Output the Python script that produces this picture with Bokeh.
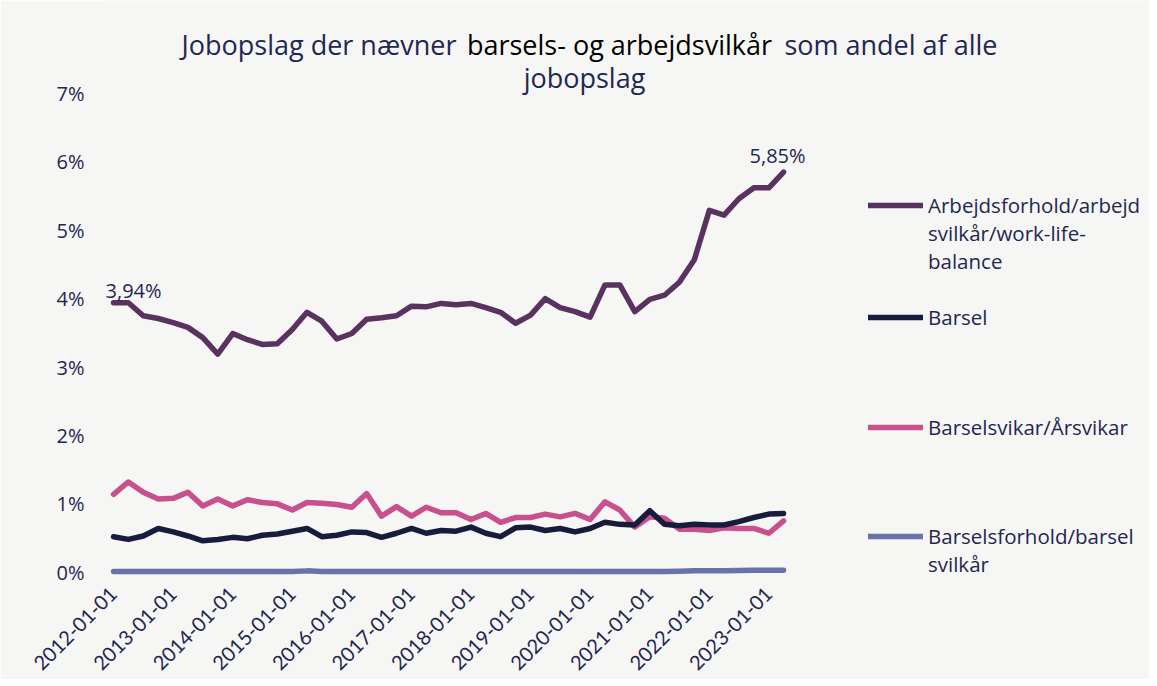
import numpy as np
import pandas as pd
from bokeh.plotting import figure
from bokeh.models import (Range1d, FixedTicker, PrintfTickFormatter, DatetimeTickFormatter,
                          Legend, LegendItem, Label, ColumnDataSource)
from bokeh.embed import file_html
from bokeh.resources import INLINE
from bokeh.core.properties import value

# ---- data (quarterly, share of all job postings in %) ----
dates = pd.date_range("2012-01-01", periods=46, freq="QS")

arbejdsforhold = [3.94, 3.94, 3.75, 3.71, 3.65, 3.58, 3.43, 3.19, 3.49, 3.40, 3.33, 3.34,
                  3.55, 3.80, 3.67, 3.41, 3.49, 3.70, 3.72, 3.75, 3.89, 3.88, 3.93, 3.91,
                  3.93, 3.87, 3.80, 3.64, 3.76, 4.00, 3.87, 3.81, 3.73, 4.20, 4.20, 3.81,
                  3.99, 4.05, 4.24, 4.57, 5.29, 5.22, 5.46, 5.62, 5.62, 5.85]
barsel = [0.52, 0.48, 0.53, 0.64, 0.59, 0.53, 0.46, 0.48, 0.51, 0.49, 0.54, 0.56,
          0.60, 0.64, 0.52, 0.54, 0.59, 0.58, 0.51, 0.57, 0.64, 0.57, 0.61, 0.60,
          0.66, 0.57, 0.52, 0.65, 0.66, 0.61, 0.64, 0.59, 0.64, 0.73, 0.70, 0.69,
          0.90, 0.70, 0.68, 0.70, 0.69, 0.69, 0.74, 0.80, 0.85, 0.86]
barselsvikar = [1.14, 1.32, 1.17, 1.07, 1.08, 1.17, 0.97, 1.07, 0.97, 1.06, 1.02, 1.00,
                0.91, 1.02, 1.01, 0.99, 0.95, 1.15, 0.82, 0.96, 0.82, 0.95, 0.87, 0.87,
                0.77, 0.86, 0.73, 0.80, 0.80, 0.85, 0.81, 0.86, 0.77, 1.03, 0.91, 0.66,
                0.81, 0.79, 0.63, 0.63, 0.61, 0.65, 0.64, 0.64, 0.57, 0.75]
barselsforhold = [0.01, 0.01, 0.01, 0.01, 0.01, 0.01, 0.01, 0.01, 0.01, 0.01, 0.01, 0.01,
                  0.01, 0.02, 0.01, 0.01, 0.01, 0.01, 0.01, 0.01, 0.01, 0.01, 0.01, 0.01,
                  0.01, 0.01, 0.01, 0.01, 0.01, 0.01, 0.01, 0.01, 0.01, 0.01, 0.01, 0.01,
                  0.01, 0.01, 0.015, 0.02, 0.02, 0.02, 0.025, 0.03, 0.03, 0.03]

series_names = [["Arbejdsforhold/arbejd", "svilkår/work-life-", "balance"], ["Barsel"],
                ["Barselsvikar/Årsvikar"], ["Barselsforhold/barsel", "svilkår"]]
series_values = [arbejdsforhold, barsel, barselsvikar, barselsforhold]
series_colors = ["#5a325f", "#171c3c", "#c8508c", "#6a73a9"]

y_ticks = [0, 1, 2, 3, 4, 5, 6, 7]
year_ticks = pd.date_range("2012-01-01", periods=12, freq="YS")

title_parts = ["Jobopslag der nævner", "barsels- og arbejdsvilkår", "som andel af alle", "jobopslag"]

TEXT = "#1f2752"
FONT = "Open Sans"
XFONT = "Lato"
BG = "#f6f6f4"

# layout: the frame spans the canvas to the right and top so that the
# title and legend (drawn inside the frame) are not clipped
W, H = 1149, 670
LEFT, TOP, BOTTOM = 100, 0, 582
PX_PER_DAY = 670 / 4108.0
x_start = pd.Timestamp("2011-10-13")
x_end = x_start + pd.Timedelta(days=(W - LEFT) / PX_PER_DAY)
y_px = 68.4
y_start = -0.15
y_end = y_start + (BOTTOM - TOP) / y_px

p = figure(width=W, height=H, x_axis_type="datetime", output_backend="svg",
           toolbar_location=None,
           x_range=Range1d(x_start, x_end), y_range=Range1d(y_start, y_end))
p.frame_width = W - LEFT
p.frame_height = BOTTOM - TOP
p.min_border_left = LEFT
p.min_border_top = TOP
p.min_border_right = 0
p.min_border_bottom = H - BOTTOM
p.background_fill_color = BG
p.border_fill_color = BG
p.outline_line_color = None
p.grid.visible = False

# axes
p.yaxis.ticker = FixedTicker(ticks=y_ticks)
p.yaxis.formatter = PrintfTickFormatter(format="%d%%")
p.xaxis.ticker = FixedTicker(ticks=[t.value // 10**6 for t in year_ticks])
fmt = "%Y-%m-%d"
p.xaxis.formatter = DatetimeTickFormatter(years=fmt, months=fmt, days=fmt, hours=fmt,
                                          minutes=fmt, seconds=fmt, milliseconds=fmt,
                                          microseconds=fmt, hourmin=fmt, minsec=fmt)
p.xaxis.major_label_orientation = np.pi / 4
for ax in (p.xaxis, p.yaxis):
    ax.axis_line_color = None
    ax.major_tick_line_color = None
    ax.minor_tick_line_color = None
    ax.major_label_text_color = TEXT
    ax.major_label_text_font_size = "20px"
p.yaxis.major_label_text_font = FONT
p.xaxis.major_label_text_font = XFONT
p.yaxis.major_label_standoff = 10
p.xaxis.major_label_standoff = 2

renderers = []
for vals, col in zip(series_values, series_colors):
    src = ColumnDataSource(dict(x=dates, y=vals))
    r = p.line("x", "y", source=src, line_color=col, line_width=5.5, line_join="round",
               line_cap="round")
    renderers.append(r)

p.renderers = p.renderers[::-1]

# one legend per series, so each entry can sit at its own height; the glyph is
# centred on the first text line by padding the label with blank lines above
LINE_PX = 26.5
glyph_centres = [209, 318, 428, 538]
for lines, r, gy in zip(series_names, renderers, glyph_centres):
    n_pad = len(lines) - 1
    label = "\n".join([""] * n_pad + lines)
    n_total = n_pad + len(lines)
    h = n_total * LINE_PX
    lg = Legend(items=[LegendItem(label=label, renderers=[r])],
                location=(868 - LEFT, BOTTOM - (gy + h / 2)), orientation="vertical",
                label_text_font=FONT, label_text_font_size="20.5px", label_text_color=TEXT,
                label_text_line_height=1.29, glyph_width=55, glyph_height=20,
                label_standoff=5, label_height=10, spacing=0, padding=0, margin=0,
                background_fill_alpha=0, border_line_color=None)
    p.add_layout(lg, "center")

# data labels for first and last value of the main series
lab_src = ColumnDataSource(dict(
    x=[dates[0], dates[-1]],
    y=[arbejdsforhold[0], arbejdsforhold[-1]],
    t=[f"{arbejdsforhold[0]:.2f}%".replace(".", ","), f"{arbejdsforhold[-1]:.2f}%".replace(".", ",")],
    xo=[20, -6], yo=[-12, -17]))
p.text("x", "y", text="t", x_offset="xo", y_offset="yo", source=lab_src,
       text_font=value(FONT), text_font_size="20px", text_color=TEXT,
       text_align="center", text_baseline="middle")

# title (two colours), positioned relative to the frame's bottom-left corner
tkw = dict(x_units="screen", y_units="screen", text_font=FONT, text_font_size="27px",
           text_baseline="middle")
p.add_layout(Label(x=181 - LEFT, y=BOTTOM - 44, text=title_parts[0], text_align="left", text_color=TEXT, **tkw))
p.add_layout(Label(x=619 - LEFT, y=BOTTOM - 44, text=title_parts[1], text_align="center", text_color="#000000", **tkw))
p.add_layout(Label(x=997 - LEFT, y=BOTTOM - 44, text=title_parts[2], text_align="right", text_color=TEXT, **tkw))
p.add_layout(Label(x=584 - LEFT, y=BOTTOM - 77, text=title_parts[3], text_align="center", text_color=TEXT, **tkw))

open("out.html", "w").write(file_html(p, INLINE))
